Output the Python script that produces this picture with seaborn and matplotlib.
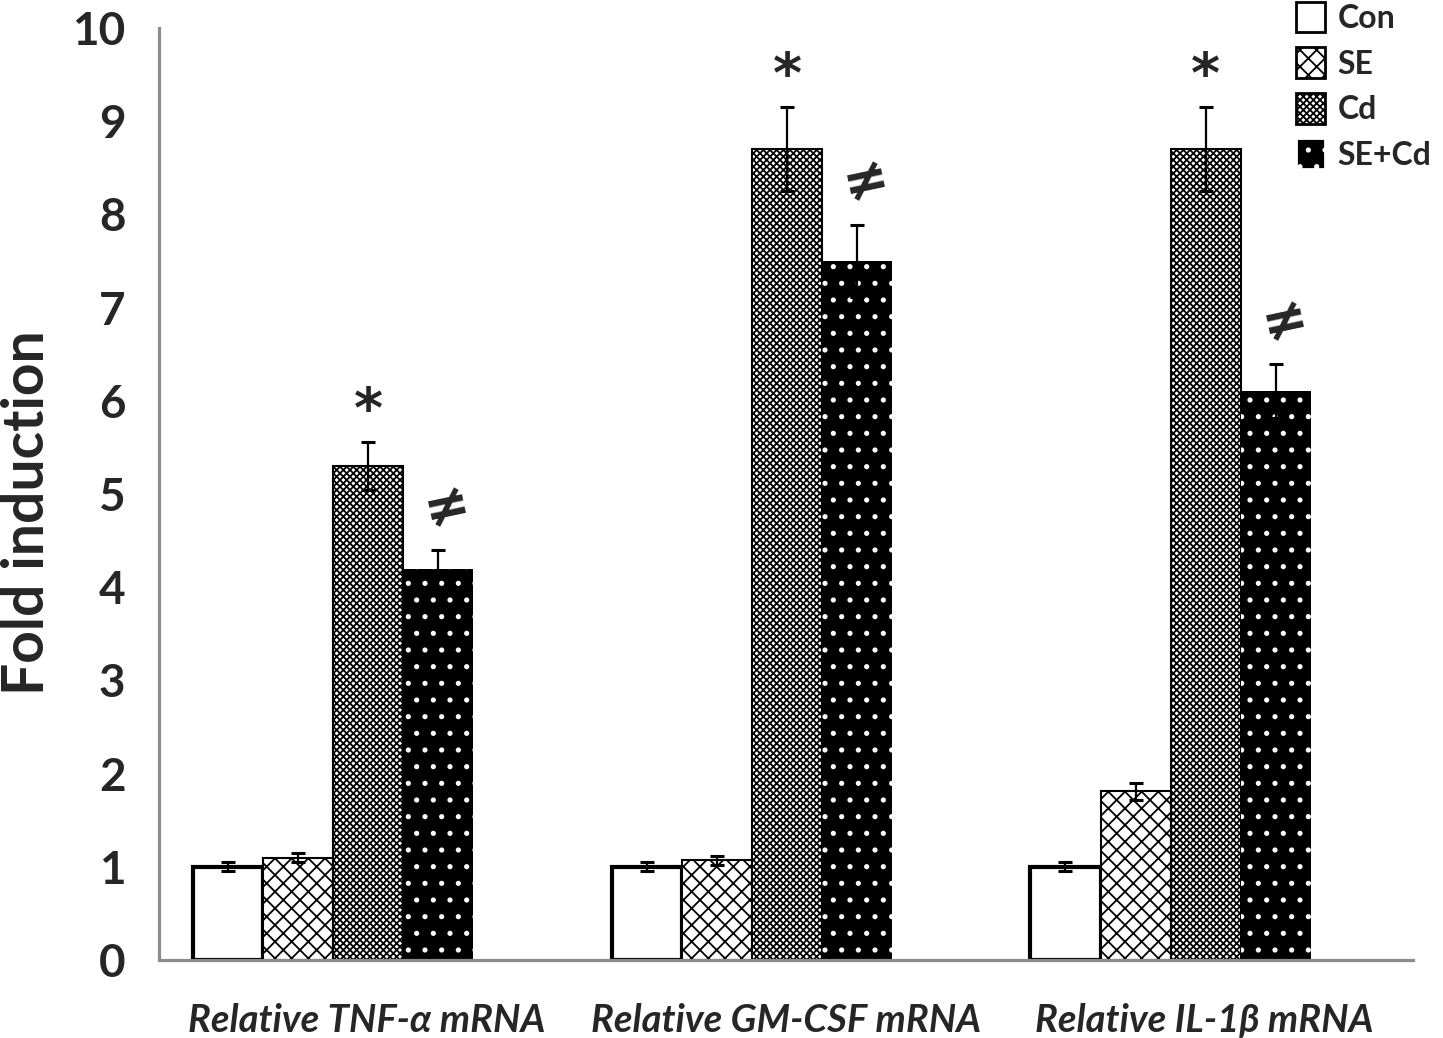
import numpy as np
import pandas as pd
import matplotlib
matplotlib.use('Agg')
import matplotlib.pyplot as plt
import matplotlib.transforms as mtransforms
from matplotlib.patches import Patch
import seaborn as sns

# %% data
genes = ['Relative TNF-\u03b1 mRNA', 'Relative GM-CSF mRNA', 'Relative IL-1\u03b2 mRNA']
groups = ['Con', 'SE', 'Cd', 'SE+Cd']
con_vals = [1.0, 1.0, 1.0]
se_vals = [1.1, 1.07, 1.81]
cd_vals = [5.3, 8.7, 8.7]
secd_vals = [4.2, 7.5, 6.1]
con_err = [0.05, 0.05, 0.05]
se_err = [0.05, 0.05, 0.09]
cd_err = [0.26, 0.45, 0.45]
secd_err = [0.2, 0.39, 0.29]
star_marks = ['*', '*', '*']
neq_marks = ['\u2260', '\u2260', '\u2260']

rows = []
for g, vals, errs in zip(groups, [con_vals, se_vals, cd_vals, secd_vals],
                         [con_err, se_err, cd_err, secd_err]):
    for gene, v, e in zip(genes, vals, errs):
        rows.append({'gene': gene, 'group': g, 'value': v, 'err': e})
df = pd.DataFrame(rows)

# %% styling
sns.set_style('white')
plt.rcParams['font.family'] = ['Lato', 'DejaVu Sans']
plt.rcParams['font.weight'] = 'bold'
plt.rcParams['hatch.linewidth'] = 1.3

styles = {
    'Con': dict(facecolor='white', edgecolor='black', hatch='', lw=3),
    'SE': dict(facecolor='white', edgecolor='black', hatch='xx', lw=1.5),
    'Cd': dict(facecolor='white', edgecolor='black', hatch='xxxxx', lw=1.5),
    'SE+Cd': dict(facecolor='black', edgecolor='white', hatch='.', lw=0),
}

fig = plt.figure(figsize=(14.43, 10.38), dpi=100)
ax = fig.add_axes([0.110, 0.0751, 0.869, 0.898])

sns.barplot(data=df, x='gene', y='value', hue='group', order=genes,
            hue_order=groups, errorbar=None, width=0.67, ax=ax,
            legend=False)

for g, cont in zip(groups, ax.containers):
    st = styles[g]
    sub = df[df['group'] == g].set_index('gene').loc[genes]
    for bar, v, e in zip(cont, sub['value'], sub['err']):
        bar.set_facecolor(st['facecolor'])
        bar.set_edgecolor(st['edgecolor'])
        bar.set_hatch(st['hatch'])
        bar.set_linewidth(st['lw'])
        xc = bar.get_x() + bar.get_width() / 2
        ax.errorbar(xc, v, yerr=e, color='black', lw=1.6, capsize=5,
                    capthick=2.2, zorder=5)

# significance marks
cd_bars = ax.containers[2]
secd_bars = ax.containers[3]
for bar, v, e, m in zip(cd_bars, cd_vals, cd_err, star_marks):
    ax.text(bar.get_x() + bar.get_width() / 2, v + e + 0.32, m,
            ha='center', va='center', fontsize=40, fontweight='bold',
            family='DejaVu Sans')
for bar, v, e, m in zip(secd_bars, secd_vals, secd_err, neq_marks):
    ax.text(bar.get_x() + bar.get_width() / 2 + 0.02, v + e + 0.45, m,
            ha='center', va='center', fontsize=40, fontweight='bold',
            family='DejaVu Sans', rotation=12)

ax.set_ylim(0, 10)
ax.set_xlim(-0.4165, 2.578)
ax.set_yticks(range(0, 11))
ax.set_ylabel('Fold induction', fontsize=41, fontweight='bold', va='center')
ax.yaxis.set_label_coords(-0.105, 0.48)
ax.set_xlabel('')
ax.tick_params(axis='y', labelsize=33, length=0, pad=24)
ax.tick_params(axis='x', labelsize=27.5, length=0, pad=31)
shift = mtransforms.ScaledTranslation(0.34, 0, fig.dpi_scale_trans)
for lab in ax.get_xticklabels():
    lab.set_fontstyle('italic')
    lab.set_fontweight('bold')
    lab.set_transform(lab.get_transform() + shift)
for lab in ax.get_yticklabels():
    lab.set_fontweight('bold')

for s in ['top', 'right']:
    ax.spines[s].set_visible(False)
for s in ['left', 'bottom']:
    ax.spines[s].set_color('#8c8c8c')
    ax.spines[s].set_linewidth(2.3)

handles = [Patch(facecolor=styles[g]['facecolor'],
                 edgecolor='black' if g != 'SE+Cd' else 'white',
                 hatch=styles[g]['hatch'], lw=2, label=g) for g in groups]
leg = fig.legend(handles=handles, loc='upper right',
                 bbox_to_anchor=(1.012, 1.026), frameon=False, fontsize=23,
                 handlelength=0.9, handleheight=1.1, handletextpad=0.4,
                 labelspacing=0.45)
for t in leg.get_texts():
    t.set_fontweight('bold')

fig.savefig('out.png', dpi=100)
